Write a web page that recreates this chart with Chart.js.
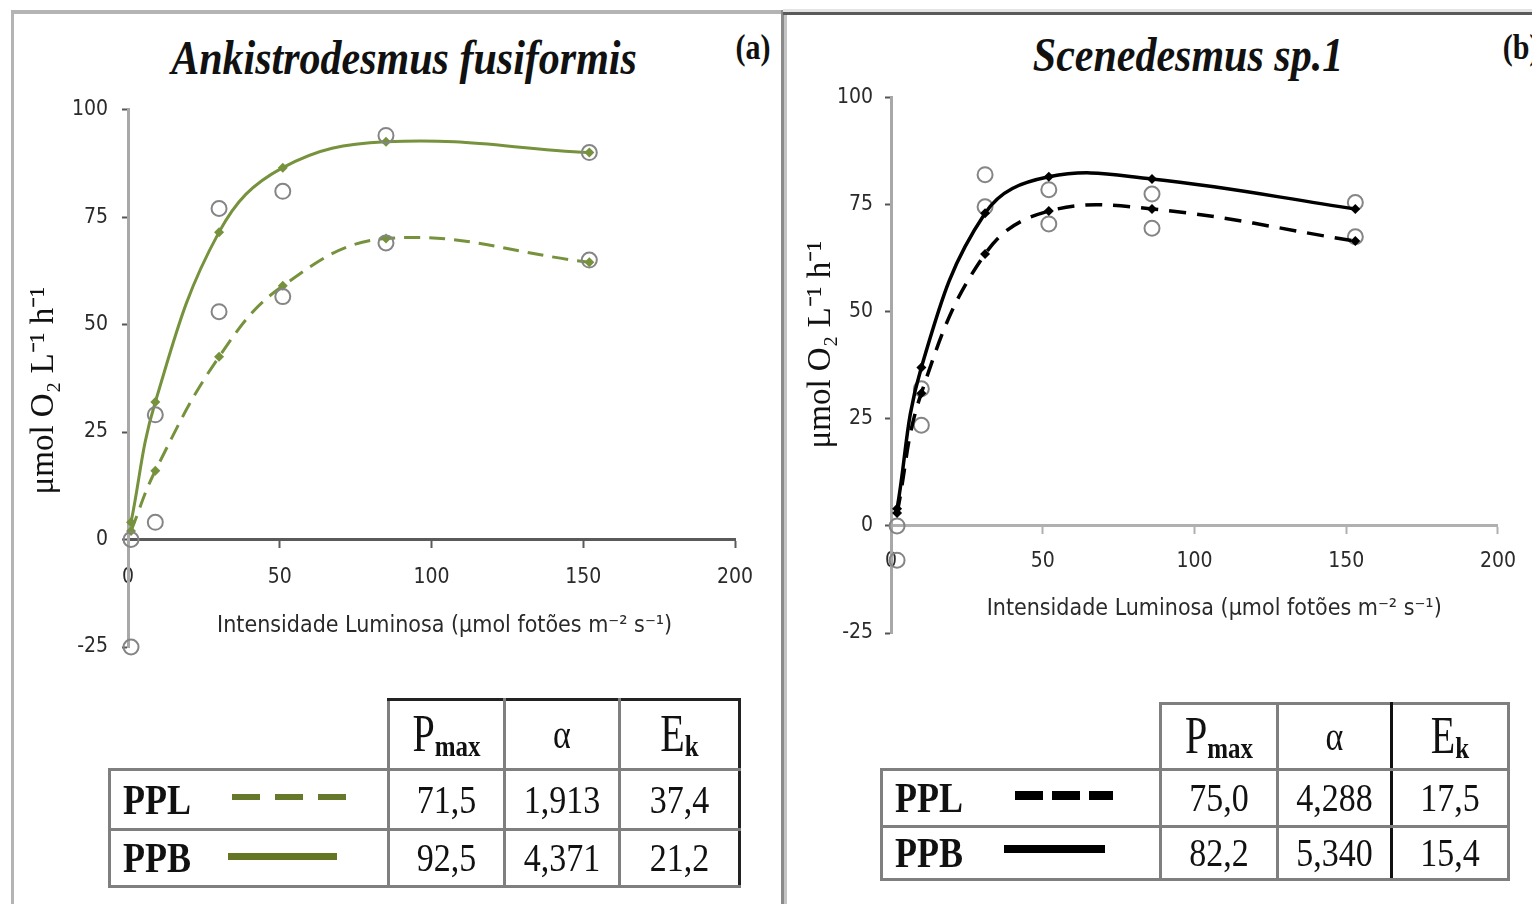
<!DOCTYPE html>
<html lang="pt">
<head>
<meta charset="UTF-8">
<title>Curvas P-I</title>
<script src="https://cdn.jsdelivr.net/npm/chart.js@4"></script>
<style>
  html, body { margin: 0; padding: 0; background: #fff; }
  body { width: 1532px; height: 904px; position: relative; overflow: hidden; }
  .abs { position: absolute; }
  .ttl { position: absolute; white-space: nowrap; line-height: 1; font-family: 'Liberation Serif', 'Times New Roman', serif; color: #111; transform: translate(-50%, -50%) scaleY(1.18); }
  .sp { font-style: italic; font-weight: bold; font-size: 42px; }
  .lbl { font-weight: bold; font-size: 30px; }
  canvas { position: absolute; }
  table.tb { position: absolute; border-collapse: collapse; table-layout: fixed; font-family: 'Liberation Serif', 'Times New Roman', serif; color: #111; }
  table.tb td, table.tb th { border: 3px solid #7f7f7f; padding: 0; text-align: center; font-weight: normal; font-size: 34px; }
  table.tb td.blank { border: none; }
  table.tb td.nm { text-align: left; padding-left: 12px; font-weight: bold; font-size: 36px; }
  table.tb span { display: inline-block; transform: scaleY(1.15); }
  table.tb th span.p { font-size: 40px; }
  table.tb th sub { font-size: 25px; font-weight: bold; vertical-align: -6px; }
</style>
</head>
<body>

<!-- molduras dos paineis -->
<div class="abs" style="left:11px;top:10px;width:772px;height:4px;background:#b4b4b4"></div>
<div class="abs" style="left:11px;top:10px;width:3px;height:894px;background:#b4b4b4"></div>
<div class="abs" style="left:781px;top:10px;width:3px;height:894px;background:#8a8a8a"></div>
<div class="abs" style="left:784px;top:10px;width:3px;height:894px;background:#c4c4c4"></div>
<div class="abs" style="left:783px;top:9px;width:749px;height:3px;background:#e4e4e4"></div>
<div class="abs" style="left:783px;top:12px;width:749px;height:3px;background:#5a5a5a"></div>

<div class="ttl sp" style="left:404px;top:57px">Ankistrodesmus fusiformis</div>
<div class="ttl lbl" style="left:753px;top:47px">(a)</div>
<div class="ttl sp" style="left:1188px;top:54px">Scenedesmus sp.1</div>
<div class="ttl lbl" style="left:1521px;top:47px">(b)</div>

<canvas id="chartA" width="760" height="657" style="left:20px;top:83px"></canvas>
<canvas id="chartB" width="746" height="653" style="left:786px;top:73px"></canvas>

<table class="tb" style="left:108px;top:698px;width:630px">
  <colgroup><col style="width:279px"><col style="width:116px"><col style="width:115px"><col style="width:120px"></colgroup>
  <tr style="height:70px"><td class="blank"></td><th style="border-top-color:#222"><span><span class="p">P</span><sub>max</sub></span></th><th style="border-top-color:#222"><span>α</span></th><th style="border-top-color:#222;border-right-color:#222"><span><span class="p">E</span><sub>k</sub></span></th></tr>
  <tr style="height:60px"><td class="nm"><span>PPL</span></td><td><span>71,5</span></td><td><span>1,913</span></td><td style="border-right-color:#222"><span>37,4</span></td></tr>
  <tr style="height:57px"><td class="nm"><span>PPB</span></td><td><span>92,5</span></td><td><span>4,371</span></td><td style="border-right-color:#222"><span>21,2</span></td></tr>
</table>
<div class="abs" style="left:232px;top:794px;width:114px;height:6px;background:repeating-linear-gradient(90deg,#66782a 0 28px,transparent 28px 43px)"></div>
<div class="abs" style="left:228px;top:853px;width:109px;height:7px;background:#647623"></div>

<table class="tb" style="left:880px;top:702px;width:627px">
  <colgroup><col style="width:279px"><col style="width:117px"><col style="width:114px"><col style="width:117px"></colgroup>
  <tr style="height:66px"><td class="blank"></td><th><span><span class="p">P</span><sub>max</sub></span></th><th style="border-right-color:#111"><span>α</span></th><th><span><span class="p">E</span><sub>k</sub></span></th></tr>
  <tr style="height:57px"><td class="nm"><span>PPL</span></td><td><span>75,0</span></td><td style="border-right-color:#111"><span>4,288</span></td><td><span>17,5</span></td></tr>
  <tr style="height:53px"><td class="nm"><span>PPB</span></td><td><span>82,2</span></td><td style="border-right-color:#111"><span>5,340</span></td><td><span>15,4</span></td></tr>
</table>
<div class="abs" style="left:1015px;top:791px;width:98px;height:9px;background:repeating-linear-gradient(90deg,#000 0 28px,transparent 28px 37px)"></div>
<div class="abs" style="left:1004px;top:845px;width:101px;height:8px;background:#000"></div>

<script>
  // eixos comuns
  const xTicks = [0, 50, 100, 150, 200];
  const yTicks = [-25, 0, 25, 50, 75, 100];

  // (a) Ankistrodesmus fusiformis - pontos do modelo
  const luzA = [1, 9, 30, 51, 85, 152];
  const pplA = [2, 16, 42.5, 59, 70, 64.5];
  const ppbA = [4, 32, 71.5, 86.5, 92.5, 90];
  // (a) valores observados
  const obsXA = [1, 1, 9, 9, 30, 30, 51, 51, 85, 85, 152, 152];
  const obsYA = [0, -25, 4, 29, 53, 77, 56.5, 81, 69, 94, 65, 90];

  // (b) Scenedesmus sp.1 - pontos do modelo
  const luzB = [2, 10, 31, 52, 86, 153];
  const pplB = [3, 31, 63.5, 73.5, 74, 66.5];
  const ppbB = [4, 37, 73, 81.5, 81, 74];
  // (b) valores observados
  const obsXB = [2, 2, 10, 10, 31, 31, 52, 52, 86, 86, 153, 153];
  const obsYB = [0, -8, 23.5, 32, 82, 74.5, 78.5, 70.5, 77.5, 69.5, 75.5, 67.5];

  const yTitle = 'μmol O₂ L⁻¹ h⁻¹';
  const xTitle = 'Intensidade Luminosa (μmol fotões m⁻² s⁻¹)';

  const narrow = "'Liberation Sans Narrow', 'DejaVu Sans Condensed', 'Liberation Sans', sans-serif";

  function pts(xs, ys) {
    return xs.map((x, i) => ({ x: x, y: ys[i] }));
  }

  function obsSet(xs, ys) {
    return {
      data: pts(xs, ys), showLine: false, clip: false,
      pointStyle: 'circle', pointRadius: 7.5, pointBorderWidth: 2,
      pointBorderColor: '#858585', pointBackgroundColor: 'rgba(255,255,255,0)'
    };
  }

  function modelSet(xs, ys, color, width, dash) {
    return {
      data: pts(xs, ys), showLine: true, clip: false, tension: 0.4,
      borderColor: color, borderWidth: width, borderDash: dash,
      pointStyle: 'rectRot', pointRadius: 5, pointBorderWidth: 0,
      pointBackgroundColor: color
    };
  }

  // o eixo x fica em y = 0, por isso nao ocupa espaco no layout:
  // a area do grafico e fixada pelo padding de baixo
  function makeChart(id, p) {
    return new Chart(document.getElementById(id), {
      type: 'scatter',
      data: { datasets: p.datasets },
      options: {
        responsive: false,
        animation: false,
        layout: { padding: { left: 0, top: 0, right: p.right, bottom: p.bottom } },
        plugins: { legend: { display: false }, tooltip: { enabled: false } },
        scales: {
          x: {
            type: 'linear', min: 0, max: 200,
            position: { y: 0 },
            afterBuildTicks: s => { s.ticks = xTicks.map(v => ({ value: v })); },
            afterFit: s => { s.height = 100; },
            border: { display: true, color: p.xAxisColor, width: 3 },
            grid: { drawOnChartArea: false, drawTicks: true, tickLength: 7, tickColor: p.xAxisColor, tickWidth: 2 },
            ticks: { padding: p.xPad, color: '#2a2a2a', font: { family: narrow, size: 21 } },
            title: { display: true, text: p.xTitle, color: '#2a2a2a', padding: { top: 0, bottom: p.xTitlePad }, font: { family: narrow, size: 23 } }
          },
          y: {
            type: 'linear', min: -25, max: 100,
            afterBuildTicks: s => { s.ticks = yTicks.map(v => ({ value: v })); },
            afterFit: s => { s.width = p.yWidth; },
            border: { display: true, color: '#a8a8a8', width: 3 },
            grid: { drawOnChartArea: false, drawTicks: true, tickLength: 6, tickColor: '#555', tickWidth: 2 },
            ticks: { padding: p.yPad, color: '#2a2a2a', font: { family: narrow, size: 21 } },
            title: { display: true, text: p.yTitle, color: '#111', padding: { top: p.yTitlePad, bottom: 0 }, font: { family: "'Liberation Serif', serif", size: 33 } }
          }
        }
      }
    });
  }

  const verde = '#76923c';

  makeChart('chartA', {
    right: 45, bottom: 93, yWidth: 108, xPad: 18, yPad: 14, yTitlePad: 5, xTitlePad: 0,
    xAxisColor: '#5a5a5a', yTitle: yTitle + '   ', xTitle: '    ' + xTitle,
    datasets: [
      obsSet(obsXA, obsYA),
      modelSet(luzA, ppbA, verde, 3, []),
      modelSet(luzA, pplA, verde, 3, [16, 9])
    ]
  });

  makeChart('chartB', {
    right: 32, bottom: 93, yWidth: 105, xPad: 16, yPad: 12, yTitlePad: 16, xTitlePad: 3,
    xAxisColor: '#b0b0b0', yTitle: '     ' + yTitle, xTitle: '      ' + xTitle,
    datasets: [
      modelSet(luzB, ppbB, '#000', 3.5, []),
      modelSet(luzB, pplB, '#000', 3.5, [17, 11]),
      obsSet(obsXB, obsYB)
    ]
  });
</script>
</body>
</html>
